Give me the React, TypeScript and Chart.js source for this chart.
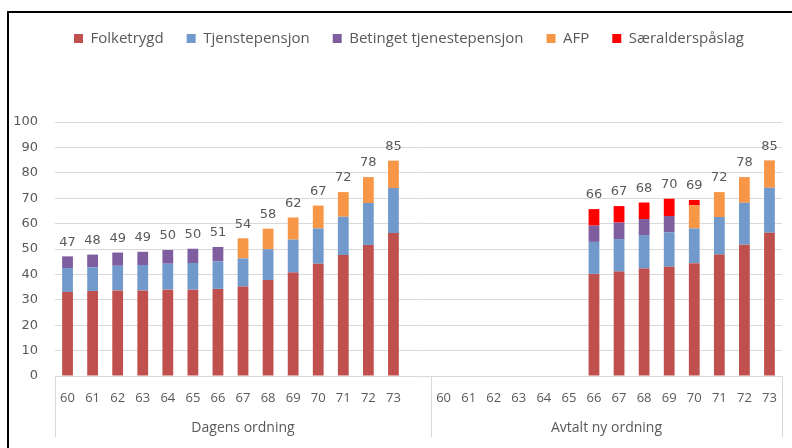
import { useEffect, useRef } from "react";
import { Chart, registerables } from "chart.js";

Chart.register(...registerables);

// ---- data ----
const ages = ["60", "61", "62", "63", "64", "65", "66", "67", "68", "69", "70", "71", "72", "73"];
const groups = ["Dagens ordning", "Avtalt ny ordning"];
const seriesNames = ["Folketrygd", "Tjenstepensjon", "Betinget tjenestepensjon", "AFP", "Særalderspåslag"];
const seriesColors = ["#C0504D", "#7299CB", "#7E5E9E", "#F79646", "#FF0000"];

// Dagens ordning (ages 60-73)
const folketrygdDagens = [33.1, 33.5, 33.7, 33.7, 34.0, 34.0, 34.3, 35.2, 37.8, 40.7, 44.2, 47.6, 51.6, 56.3];
const tjenesteDagens = [9.4, 9.3, 9.7, 10.0, 10.2, 10.5, 10.8, 11.1, 12.1, 13.0, 13.9, 15.1, 16.5, 17.7];
const betingetDagens = [4.6, 5.0, 5.2, 5.2, 5.4, 5.6, 5.7, null, null, null, null, null, null, null];
const afpDagens = [null, null, null, null, null, null, null, 7.9, 8.1, 8.7, 9.0, 9.7, 10.2, 10.8];
const saerDagens = [null, null, null, null, null, null, null, null, null, null, null, null, null, null];
const totalsDagens = [47, 48, 49, 49, 50, 50, 51, 54, 58, 62, 67, 72, 78, 85];

// Avtalt ny ordning (ages 60-73)
const folketrygdAvtalt = [null, null, null, null, null, null, 40.2, 41.1, 42.3, 43.0, 44.4, 47.8, 51.7, 56.4];
const tjenesteAvtalt = [null, null, null, null, null, null, 12.6, 12.8, 13.2, 13.6, 13.7, 14.8, 16.5, 17.7];
const betingetAvtalt = [null, null, null, null, null, null, 6.4, 6.5, 6.3, 6.4, null, null, null, null];
const afpAvtalt = [null, null, null, null, null, null, null, null, null, null, 9.1, 9.8, 10.1, 10.8];
const saerAvtalt = [null, null, null, null, null, null, 6.5, 6.5, 6.5, 6.8, 2.1, null, null, null];
const totalsAvtalt = [null, null, null, null, null, null, 66, 67, 68, 70, 69, 72, 78, 85];

// ---- derived ----
const categories = [...ages, "", ...ages];
const join = (a: (number | null)[], b: (number | null)[]) => [...a, null, ...b];
const seriesData = [
  join(folketrygdDagens, folketrygdAvtalt),
  join(tjenesteDagens, tjenesteAvtalt),
  join(betingetDagens, betingetAvtalt),
  join(afpDagens, afpAvtalt),
  join(saerDagens, saerAvtalt),
];
const totals = join(totalsDagens, totalsAvtalt);

const GREY = "#595959";
const GRID = "#d9d9d9";

const legendSpacer = {
  id: "legendSpacer",
  beforeInit(chart: any) {
    const legend = chart.legend;
    if (!legend) return;
    const fit = legend.fit;
    legend.fit = function () {
      fit.call(this);
      this.height = 114;
    };
  },
  afterLayout(chart: any) {
    if (chart.legend) chart.legend.left = 36;
  },
};

const totalsPlugin = {
  id: "totals",
  afterDatasetsDraw(chart: any) {
    const { ctx, scales } = chart;
    const x = scales.x;
    const y = scales.y;
    ctx.save();
    ctx.font = "13px 'DejaVu Sans'";
    ctx.fillStyle = GREY;
    ctx.textAlign = "center";
    ctx.textBaseline = "middle";
    totals.forEach((t, i) => {
      if (t == null) return;
      let sum = 0;
      chart.data.datasets.forEach((ds: any) => {
        const v = ds.data[i];
        if (v != null) sum += v;
      });
      ctx.fillText(String(t), x.getPixelForValue(i), y.getPixelForValue(sum) - 14);
    });
    ctx.restore();
  },
};

const groupPlugin = {
  id: "groups",
  afterDraw(chart: any) {
    const { ctx, chartArea } = chart;
    const x = chart.scales.x;
    const bottom = chartArea.bottom;
    const n = ages.length;
    const mid = (x.getPixelForValue(n) + x.getPixelForValue(n + 1)) / 2;
    const lines = [x.left, mid, x.right];
    ctx.save();
    ctx.strokeStyle = GRID;
    ctx.lineWidth = 1;
    lines.forEach((lx) => {
      const px = Math.round(lx) + 0.5;
      ctx.beginPath();
      ctx.moveTo(px, bottom);
      ctx.lineTo(px, bottom + 61);
      ctx.stroke();
    });
    ctx.font = "14px 'Open Sans'";
    ctx.fillStyle = GREY;
    ctx.textAlign = "center";
    ctx.textBaseline = "middle";
    ctx.fillText(groups[0], (x.left + mid) / 2, bottom + 52);
    ctx.fillText(groups[1], (mid + x.right) / 2, bottom + 52);
    ctx.restore();
  },
};

export default function App() {
  const ref = useRef<HTMLCanvasElement | null>(null);

  useEffect(() => {
    if (!ref.current) return;
    const chart = new Chart(ref.current, {
      type: "bar",
      data: {
        labels: categories,
        datasets: seriesNames.map((name, k) => ({
          label: name,
          data: seriesData[k],
          backgroundColor: seriesColors[k],
          borderWidth: 0,
          barPercentage: 0.43,
          categoryPercentage: 1,
        })),
      },
      options: {
        responsive: false,
        animation: false,
        layout: { padding: { top: 8, left: 0, right: 10, bottom: 0 } },
        plugins: {
          legend: {
            position: "top",
            labels: {
              boxWidth: 9,
              boxHeight: 9,
              padding: 23,
              color: GREY,
              font: { family: "'Open Sans'", size: 15 },
            },
          },
          tooltip: { enabled: false },
        },
        scales: {
          x: {
            stacked: true,
            grid: { display: false },
            border: { display: false },
            ticks: {
              autoSkip: false,
              maxRotation: 0,
              minRotation: 0,
              padding: 6,
              color: GREY,
              font: { family: "'Open Sans'", size: 13 },
            },
            afterFit(scale: any) {
              scale.height = 72;
            },
          },
          y: {
            stacked: true,
            min: 0,
            max: 100,
            ticks: {
              stepSize: 10,
              padding: 17,
              color: GREY,
              font: { family: "'DejaVu Sans'", size: 13 },
            },
            grid: { color: GRID, drawTicks: false },
            border: { display: false },
            afterFit(scale: any) {
              scale.width = 55;
            },
          },
        },
      },
      plugins: [legendSpacer, totalsPlugin, groupPlugin],
    } as any);
    return () => chart.destroy();
  }, []);

  return (
    <div style={{ position: "fixed", left: 0, top: 0, width: 792, height: 448, background: "#fff", overflow: "hidden" }}>
      <canvas ref={ref} width={792} height={448} style={{ position: "absolute", left: 0, top: 0 }} />
      <div
        style={{
          position: "absolute",
          left: 7,
          top: 11,
          width: 900,
          height: 600,
          borderLeft: "2px solid #000",
          borderTop: "2px solid #000",
          pointerEvents: "none",
        }}
      />
    </div>
  );
}
